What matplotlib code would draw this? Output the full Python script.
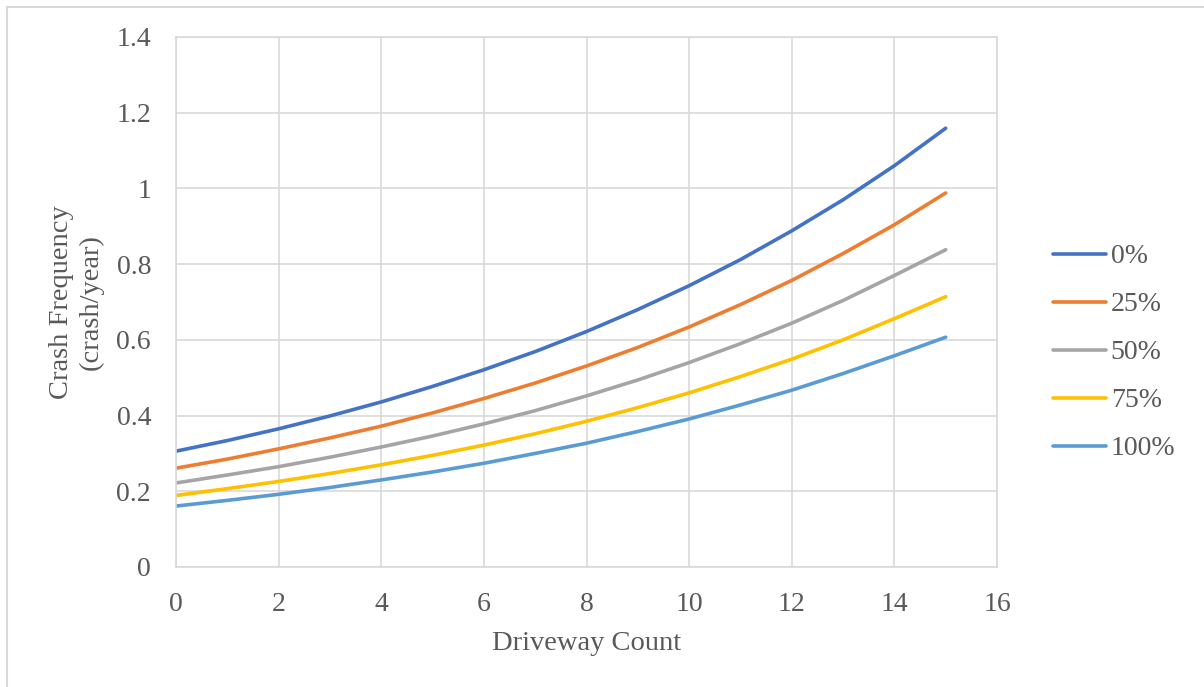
import matplotlib
matplotlib.use("Agg")
import matplotlib.pyplot as plt
from matplotlib.lines import Line2D

driveways = list(range(16))
series_labels = ["0%", "25%", "50%", "75%", "100%"]
freq_0 = [0.306, 0.334, 0.365, 0.399, 0.436, 0.477, 0.521, 0.569, 0.622, 0.680, 0.743, 0.812, 0.888, 0.970, 1.060, 1.159]
freq_25 = [0.261, 0.285, 0.312, 0.341, 0.372, 0.407, 0.445, 0.486, 0.531, 0.580, 0.634, 0.693, 0.757, 0.828, 0.904, 0.988]
freq_50 = [0.222, 0.243, 0.265, 0.290, 0.317, 0.346, 0.378, 0.413, 0.452, 0.494, 0.540, 0.590, 0.644, 0.704, 0.770, 0.838]
freq_75 = [0.189, 0.207, 0.226, 0.247, 0.270, 0.295, 0.322, 0.352, 0.385, 0.421, 0.460, 0.503, 0.549, 0.600, 0.656, 0.714]
freq_100 = [0.161, 0.176, 0.192, 0.210, 0.230, 0.251, 0.274, 0.300, 0.327, 0.358, 0.391, 0.428, 0.467, 0.511, 0.558, 0.607]
colors = ["#4472C4", "#ED7D31", "#A5A5A5", "#FFC000", "#5B9BD5"]
xticks = [0, 2, 4, 6, 8, 10, 12, 14, 16]
yticks = [0, 0.2, 0.4, 0.6, 0.8, 1.0, 1.2, 1.4]
ytick_labels = ["0", "0.2", "0.4", "0.6", "0.8", "1", "1.2", "1.4"]

plt.rcParams['font.family'] = ['Liberation Serif', 'DejaVu Serif']
FS = 20
W, H = 1204, 687
fig = plt.figure(figsize=(W / 100, H / 100), dpi=100)
# outer frame: only top and left edges are visible in the reference
fig.add_artist(Line2D([6.5 / W, 1.0], [1 - 7 / H, 1 - 7 / H],
                      transform=fig.transFigure, color="#d9d9d9", linewidth=1.5))
fig.add_artist(Line2D([6.5 / W, 6.5 / W], [0.0, 1 - 7 / H],
                      transform=fig.transFigure, color="#d9d9d9", linewidth=1.5))

ax = fig.add_axes([176 / W, 1 - 567 / H, (997 - 176) / W, (567 - 37) / H])
ax.set_xlim(0, 16)
ax.set_ylim(0, 1.4)
ax.set_xticks(xticks)
ax.set_yticks(yticks)
ax.set_yticklabels(ytick_labels)
ax.grid(True, color="#d9d9d9", linewidth=1.2)
ax.set_axisbelow(True)
for s in ax.spines.values():
    s.set_color("#d9d9d9")
    s.set_linewidth(1.2)
ax.tick_params(length=0, labelsize=FS, labelcolor="#595959")
ax.tick_params(axis="y", pad=18)
ax.tick_params(axis="x", pad=18)

all_series = [freq_0, freq_25, freq_50, freq_75, freq_100]
for vals, lab, c in zip(all_series, series_labels, colors):
    ax.plot(driveways, vals, color=c, linewidth=2.6, label=lab,
            solid_capstyle="round")

ax.set_xlabel("Driveway Count", fontsize=20.5, color="#595959", labelpad=10)
ax.set_ylabel("Crash Frequency\n(crash/year)", fontsize=20.5, color="#595959",
              labelpad=9, linespacing=1.25)

leg = fig.legend(loc="upper left", bbox_to_anchor=(1053 / W, 1 - 244 / H),
                 frameon=False, fontsize=FS, handlelength=1.9,
                 handletextpad=0.18, labelspacing=0.81, labelcolor="#595959",
                 borderaxespad=0, borderpad=0)

fig.savefig("out.png", dpi=100)
